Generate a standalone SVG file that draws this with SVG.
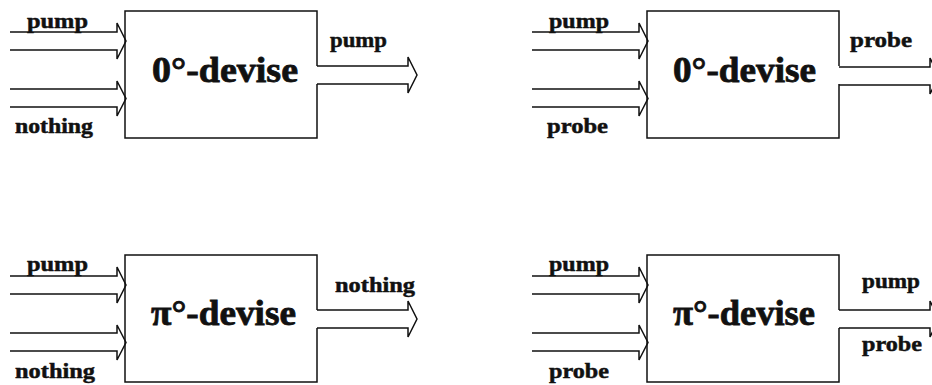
<svg xmlns="http://www.w3.org/2000/svg" xmlns:xlink="http://www.w3.org/1999/xlink" width="932" height="385" viewBox="0 0 932 385">
<style>
.ln{fill:none;stroke:#111;stroke-width:1.5;stroke-linejoin:miter}
text{font-family:'Liberation Serif',Tinos,'Times New Roman',Times,serif;font-weight:700;fill:#111;stroke:#111;stroke-width:0.5}
.lbl{font-size:22px}
.ttl{font-size:36px;stroke-width:0.8}
</style>
<defs>
<path id="inA" d="M10,32 H117 V23 L126,41 L117,59 V50 H10"/>
<path id="inB" d="M10,89 H117 V81 L126,98.5 L117,116 V107 H10"/>
<path id="outA" d="M317,66 H408 V57 L417,75 L408,93 V84 H317"/>
<path id="box" d="M317,66 V11 H125 V138 H317 V84"/>
</defs>
<rect width="932" height="385" fill="#fff"/>
<g id="node-tl"><use href="#box" class="ln"/><text class="ttl" x="152" y="82" textLength="146" lengthAdjust="spacingAndGlyphs">0°-devise</text></g>
<g id="node-tr" transform="translate(522,0)"><use href="#box" class="ln"/><text class="ttl" x="151" y="82" textLength="143" lengthAdjust="spacingAndGlyphs">0°-devise</text></g>
<g id="node-bl" transform="translate(0,244)"><use href="#box" class="ln"/><text class="ttl" x="151" y="81" textLength="145" lengthAdjust="spacingAndGlyphs">π°-devise</text></g>
<g id="node-br" transform="translate(522,244)"><use href="#box" class="ln"/><text class="ttl" x="151" y="81" textLength="142" lengthAdjust="spacingAndGlyphs">π°-devise</text></g>
<g id="connectors" class="ln">
<use href="#inA"/><use href="#inB"/><use href="#outA"/>
<use href="#inA" transform="translate(522,0)"/><use href="#inB" transform="translate(522,0)"/><use href="#outA" transform="translate(522,1)"/>
<use href="#inA" transform="translate(0,244)"/><use href="#inB" transform="translate(0,244)"/><use href="#outA" transform="translate(0,244)"/>
<use href="#inA" transform="translate(522,244)"/><use href="#inB" transform="translate(522,244)"/><use href="#outA" transform="translate(522,244)"/>
</g>
<g id="labels">
<text class="lbl" x="27" y="28" textLength="61" lengthAdjust="spacingAndGlyphs">pump</text>
<text class="lbl" x="15" y="133" textLength="78" lengthAdjust="spacingAndGlyphs">nothing</text>
<text class="lbl" x="330" y="47" textLength="57" lengthAdjust="spacingAndGlyphs">pump</text>
<text class="lbl" x="549" y="28" textLength="60" lengthAdjust="spacingAndGlyphs">pump</text>
<text class="lbl" x="547" y="133" textLength="61" lengthAdjust="spacingAndGlyphs">probe</text>
<text class="lbl" x="850" y="47" textLength="62" lengthAdjust="spacingAndGlyphs">probe</text>
<text class="lbl" x="27" y="271" textLength="61" lengthAdjust="spacingAndGlyphs">pump</text>
<text class="lbl" x="15" y="378" textLength="80" lengthAdjust="spacingAndGlyphs">nothing</text>
<text class="lbl" x="335" y="292" textLength="80" lengthAdjust="spacingAndGlyphs">nothing</text>
<text class="lbl" x="549" y="271" textLength="60" lengthAdjust="spacingAndGlyphs">pump</text>
<text class="lbl" x="549" y="378" textLength="60" lengthAdjust="spacingAndGlyphs">probe</text>
<text class="lbl" x="862" y="288" textLength="58" lengthAdjust="spacingAndGlyphs">pump</text>
<text class="lbl" x="862" y="351" textLength="60" lengthAdjust="spacingAndGlyphs">probe</text>
</g>
</svg>
